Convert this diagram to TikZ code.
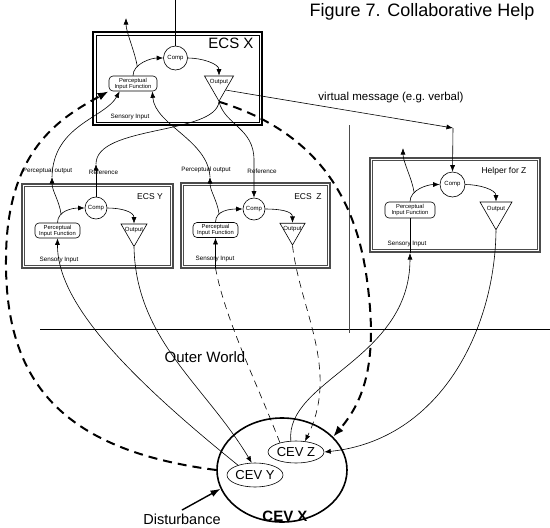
\documentclass[tikz,border=0pt]{standalone}
\usepackage{fontspec}
\setmainfont{Liberation Sans}
\usetikzlibrary{arrows.meta,shapes.geometric}

\begin{document}
\begin{tikzpicture}[x=1pt,y=-1pt,line width=0.6pt,
    link/.style={-{Latex[length=6.5pt,width=5pt]}},
    bigdash/.style={line width=2pt,dash pattern=on 9pt off 6pt,-{Latex[length=11pt,width=8pt]}},
    thindash/.style={dash pattern=on 7pt off 5pt},
    smallbox/.style={draw=gray!60!black,line width=1.3pt},
    pif/.style={draw,rounded corners=4pt,align=center,inner sep=0pt,font=\fontsize{5.8}{6}\selectfont},
    comp/.style={draw,circle,inner sep=0pt,font=\fontsize{6}{7}\selectfont},
    outp/.style={draw,regular polygon,regular polygon sides=3,shape border rotate=180,inner sep=0pt,font=\fontsize{6}{7}\selectfont},
    smalltxt/.style={font=\fontsize{6.3}{7}\selectfont},
    cev/.style={draw,ellipse,inner sep=0pt,font=\fontsize{13}{15}\selectfont}]
    \useasboundingbox (0,0) rectangle (550,528);

    \node[font=\fontsize{18}{21}\selectfont] (title) at (422,11.5) {Figure 7. Collaborative Help};

    % ECS X
    \node[draw,line width=2.4pt,minimum width=169pt,minimum height=93pt] (ecsX) at (177.5,78.5) {};
    \draw ([shift={(4,4)}]ecsX.north west) rectangle ([shift={(-4,-4)}]ecsX.south east);
    \node[font=\fontsize{15}{17}\selectfont] (ecsXlab) at (231,43) {ECS X};
    \node[comp,minimum size=24pt] (compX) at (175.5,58) {Comp};
    \node[pif,minimum width=48pt,minimum height=15pt] (pifX) at (133,83.5) {Perceptual\\Input Function};
    \node[outp,minimum size=33.5pt] (outX) at (219,84.4) {\raisebox{0.5pt}[0pt][0pt]{\makebox[0pt]{Output}}};
    \node[smalltxt,anchor=west] (sensX) at (107,117) {Sensory Input};

    % ECS Y
    \node[smallbox,minimum width=151pt,minimum height=84pt] (ecsY) at (97.5,226) {};
    \node[font=\fontsize{8.5}{10}\selectfont] (ecsYlab) at (150,197) {ECS Y};
    \node[comp,minimum size=22pt] (compY) at (96,208) {Comp};
    \node[pif,minimum width=45pt,minimum height=15pt] (pifY) at (57.5,230.5) {Perceptual\\Input Function};
    \node[outp,minimum size=30pt] (outY) at (134,231.5) {\raisebox{0.5pt}[0pt][0pt]{\makebox[0pt]{Output}}};
    \node[smalltxt,anchor=west] (sensY) at (36,260) {Sensory Input};
    \node[smalltxt] (poYlab) at (47.5,171) {Perceptual output};
    \node[smalltxt] (refYlab) at (103.5,172) {Reference};

    % ECS Z
    \node[smallbox,minimum width=149pt,minimum height=85pt] (ecsZ) at (255.5,225.5) {};
    \node[font=\fontsize{8.5}{10}\selectfont] (ecsZlab) at (308,197) {ECS~~Z};
    \node[comp,minimum size=22pt] (compZ) at (254,209) {Comp};
    \node[pif,minimum width=45pt,minimum height=15pt] (pifZ) at (215.5,230) {Perceptual\\Input Function};
    \node[outp,minimum size=29pt] (outZ) at (292.5,230.5) {\raisebox{0.5pt}[0pt][0pt]{\makebox[0pt]{Output}}};
    \node[smalltxt,anchor=west] (sensZ) at (192,259) {Sensory Input};
    \node[smalltxt] (poZlab) at (206,170) {Perceptual output};
    \node[smalltxt] (refZlab) at (262,171) {Reference};

    % helper for Z
    \node[smallbox,minimum width=170pt,minimum height=94pt] (helpZ) at (455,205) {};
    \node[font=\fontsize{8.5}{10}\selectfont] (helpZlab) at (504,171) {Helper for Z};
    \node[comp,minimum size=25pt] (compH) at (452.5,184.5) {Comp};
    \node[pif,minimum width=50pt,minimum height=16pt] (pifH) at (410,210) {Perceptual\\Input Function};
    \node[outp,minimum size=37pt] (outH) at (496,211.2) {\raisebox{0.5pt}[0pt][0pt]{\makebox[0pt]{Output}}};
    \node[smalltxt,anchor=west] (sensH) at (384,244) {Sensory Input};

    % inner edge of the grey frames
    \foreach \b in {ecsY,ecsZ,helpZ} {
        \draw[gray!60!black,line width=0.5pt] ([shift={(3,3)}]\b.north west) rectangle ([shift={(-3,-3)}]\b.south east);
    }

    % outer world
    \coordinate (owL) at (40,329);
    \coordinate (owR) at (550,329);
    \draw (owL) -- (owR);
    \coordinate (divT) at (349,125);
    \coordinate (divB) at (349,333);
    \draw[gray!60!black] (divT) -- (divB);
    \node[font=\fontsize{15}{17}\selectfont] (owlab) at (205,357) {Outer World};

    % CEVs
    \node[draw,ellipse,line width=1.6pt,minimum width=130pt,minimum height=104pt] (cevX) at (282,470) {};
    \node[cev,minimum width=56pt,minimum height=24pt] (cevY) at (255,475) {CEV Y};
    \node[cev,minimum width=56pt,minimum height=22pt] (cevZ) at (296,452) {CEV Z};
    \node[font=\bfseries\fontsize{15}{17}\selectfont] (cevXlab) at (285,516) {CEV X};
    \node[font=\fontsize{14.5}{16}\selectfont] (dist) at (182,519) {Disturbance};
    \draw[line width=1.4pt,-{Latex[length=10pt,width=7pt]}] (dist.north) -- (cevX.197);

    % loops inside each system
    \foreach \e/\ux/\uy in {X/126/18,Y/52/177,Z/210/177,H/403/148} {
        \draw[link] (pif\e.north) .. controls +(0,-12) and +(-12,0) .. (comp\e.west) coordinate[pos=0.3] (br\e);
        \draw[link] (comp\e.east) .. controls +(14,0) and +(0,-12) .. (out\e.north);
        \coordinate (up\e) at (\ux,\uy);
        \draw[link] (br\e) .. controls +(-2,-14) and +(0,14) .. (up\e);
    }
    \coordinate (topin) at (175.5,0);
    \draw (topin) -- (compX.north);

    % perceptual outputs up to X
    \draw[link] (upY) .. controls (53,125) and (105,118) .. ([xshift=11pt]pifX.south west);
    \draw[link] (upZ) .. controls (208,140) and (155,125) .. ([xshift=-5pt]pifX.south east);

    % references from X
    \coordinate (refY) at (96,164);
    \draw[link] (compY.north) -- (refY);
    \draw (refY) .. controls (96,125) and (215,135) .. (outX.corner 1);
    \draw[link] (outX.corner 1) .. controls (225,125) and (254,128) .. (254,160) -- (compZ.north);

    % virtual message
    \coordinate (vmsg) at (453,128);
    \draw[link] (outX.-40) -- (vmsg);
    \draw[link] (vmsg) -- (compH.north);
    \node[font=\fontsize{11.5}{13}\selectfont] (vmsglab) at (391,98) {virtual message (e.g.\ verbal)};

    % Y to and from the world
    \draw[link] (cevY.150) .. controls (120,370) and (57,300) .. (pifY.south);
    \draw[link] (outY.corner 1) .. controls (136,340) and (205,385) .. (cevY.105);

    % Z to and from the world
    \coordinate (siZ) at (215.5,268);
    \draw[link] (siZ) -- (pifZ.south);
    \draw[thindash] (cevZ.150) .. controls (260,390) and (225,320) .. (siZ);
    \draw[thindash,link] (outZ.corner 1) .. controls (300,310) and (340,370) .. (cevZ.50);

    % helper to and from the world
    \coordinate (siH) at (410,253);
    \draw[link] (cevZ.115) .. controls (285,380) and (410,360) .. (siH);
    \draw (siH) -- (pifH.south);
    \draw[link] (outH.corner 1) .. controls (495,330) and (440,440) .. (cevZ.east);

    % X through the world
    \draw[bigdash] (cevX.west) .. controls (60,450) and (5,380) .. (6,260) .. controls (6,150) and (60,118) .. (pifX.south west);
    \draw[bigdash] (outX.corner 1) .. controls (310,130) and (355,190) .. (367,280) .. controls (378,360) and (365,400) .. (cevX.33);
\end{tikzpicture}
\end{document}
